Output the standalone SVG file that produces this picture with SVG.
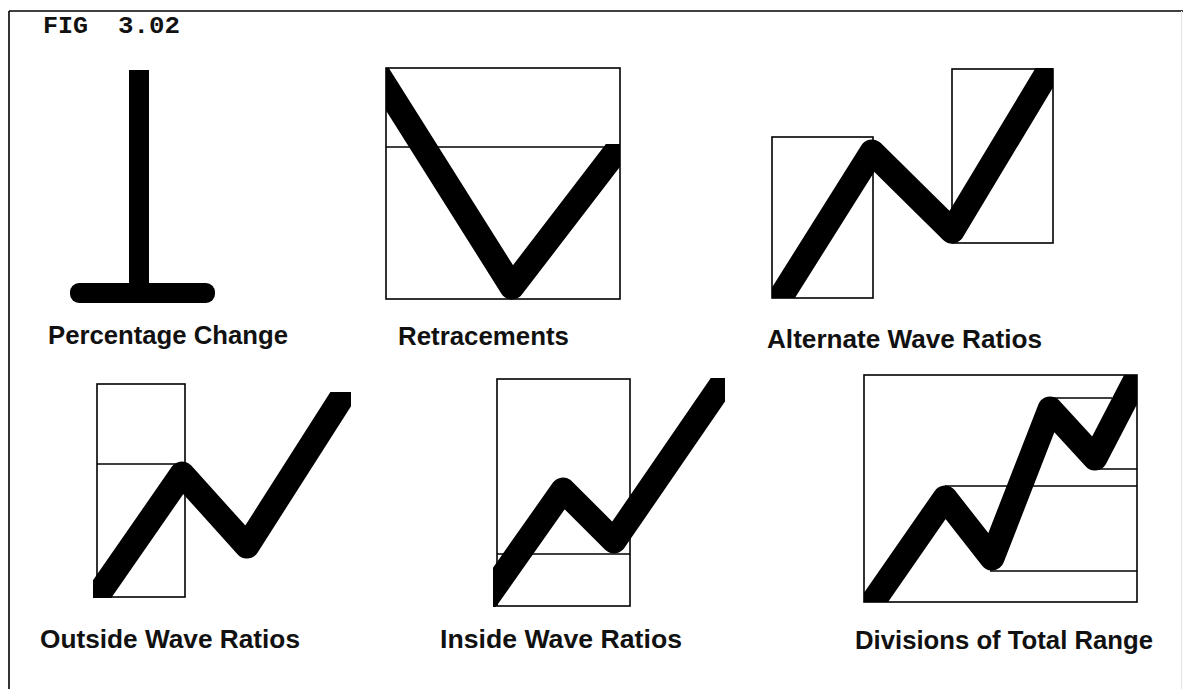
<svg xmlns="http://www.w3.org/2000/svg" width="1183" height="689" viewBox="0 0 1183 689">
<style>
.frame{stroke:#000;stroke-width:1.6;fill:none}
.box{stroke:#000;stroke-width:1.6;fill:none}
.wave{stroke:#000;stroke-width:25;fill:none;stroke-linejoin:round;stroke-linecap:butt}
.lbl{font-family:"Liberation Sans",Arial,sans-serif;font-weight:bold;font-size:25px;fill:#111}
.fig{font-family:"Liberation Mono","Courier New",monospace;font-weight:bold;font-size:24px;fill:#111}
</style>
<defs>
<clipPath id="cRet"><polygon points="386,68 500,68 500,144 620,144 620,302 386,302"/></clipPath>
<clipPath id="cAlt"><rect x="772" y="68" width="281" height="230"/></clipPath>
<clipPath id="cOut"><rect x="93" y="392" width="258" height="206"/></clipPath>
<clipPath id="cIn"><rect x="493" y="378" width="232" height="229"/></clipPath>
<clipPath id="cDiv"><rect x="864" y="375" width="273" height="227"/></clipPath>
</defs>
<rect width="1183" height="689" fill="#fff"/>
<g id="frame">
<line class="frame" x1="9" y1="11" x2="1183" y2="11"/>
<line class="frame" x1="9" y1="11" x2="9" y2="689"/>
<line x1="1181.5" y1="11" x2="1181.5" y2="689" stroke="#e2e2e2" stroke-width="1"/>
<text class="fig" x="43" y="33" textLength="45" lengthAdjust="spacingAndGlyphs">FIG</text>
<text class="fig" x="118" y="33" textLength="62" lengthAdjust="spacingAndGlyphs">3.02</text>
</g>
<g id="percentage-change">
<rect x="129" y="70" width="20" height="222" fill="#000"/>
<rect x="70" y="283" width="145" height="20" rx="9" fill="#000"/>
<text class="lbl" x="48" y="344" textLength="240" lengthAdjust="spacingAndGlyphs">Percentage Change</text>
</g>
<g id="retracements">
<rect class="box" x="386" y="68" width="234" height="231"/>
<line class="box" x1="386" y1="147" x2="620" y2="147"/>
<polyline class="wave" clip-path="url(#cRet)" points="374,68 512,287 640,120"/>
<text class="lbl" x="398" y="345" textLength="171" lengthAdjust="spacingAndGlyphs">Retracements</text>
</g>
<g id="alternate-wave-ratios">
<rect class="box" x="772" y="137" width="101" height="161"/>
<rect class="box" x="952" y="69" width="101" height="174"/>
<polyline class="wave" clip-path="url(#cAlt)" points="760,330 872,152 952,231 1070,35"/>
<text class="lbl" x="767" y="348" textLength="275" lengthAdjust="spacingAndGlyphs">Alternate Wave Ratios</text>
</g>
<g id="outside-wave-ratios">
<rect class="box" x="97" y="384" width="88" height="213"/>
<line class="box" x1="97" y1="464" x2="185" y2="464"/>
<polyline class="wave" clip-path="url(#cOut)" points="80,621 182,474 247,546 365,361"/>
<text class="lbl" x="40" y="648" textLength="260" lengthAdjust="spacingAndGlyphs">Outside Wave Ratios</text>
</g>
<g id="inside-wave-ratios">
<rect class="box" x="497" y="379" width="133" height="227"/>
<line class="box" x1="497" y1="554" x2="630" y2="554"/>
<polyline class="wave" clip-path="url(#cIn)" points="470,622 563,490 614,541 750,343"/>
<text class="lbl" x="440" y="648" textLength="242" lengthAdjust="spacingAndGlyphs">Inside Wave Ratios</text>
</g>
<g id="divisions-of-total-range">
<rect class="box" x="864" y="375" width="273" height="227"/>
<line class="box" x1="1050" y1="398" x2="1112" y2="398"/>
<line class="box" x1="1095" y1="469" x2="1137" y2="469"/>
<line class="box" x1="945" y1="486" x2="1137" y2="486"/>
<line class="box" x1="990" y1="571" x2="1137" y2="571"/>
<polyline class="wave" clip-path="url(#cDiv)" points="850,635 945,498 992,558 1050,409 1095,458 1160,333"/>
<text class="lbl" x="855" y="649" textLength="298" lengthAdjust="spacingAndGlyphs">Divisions of Total Range</text>
</g>
</svg>
